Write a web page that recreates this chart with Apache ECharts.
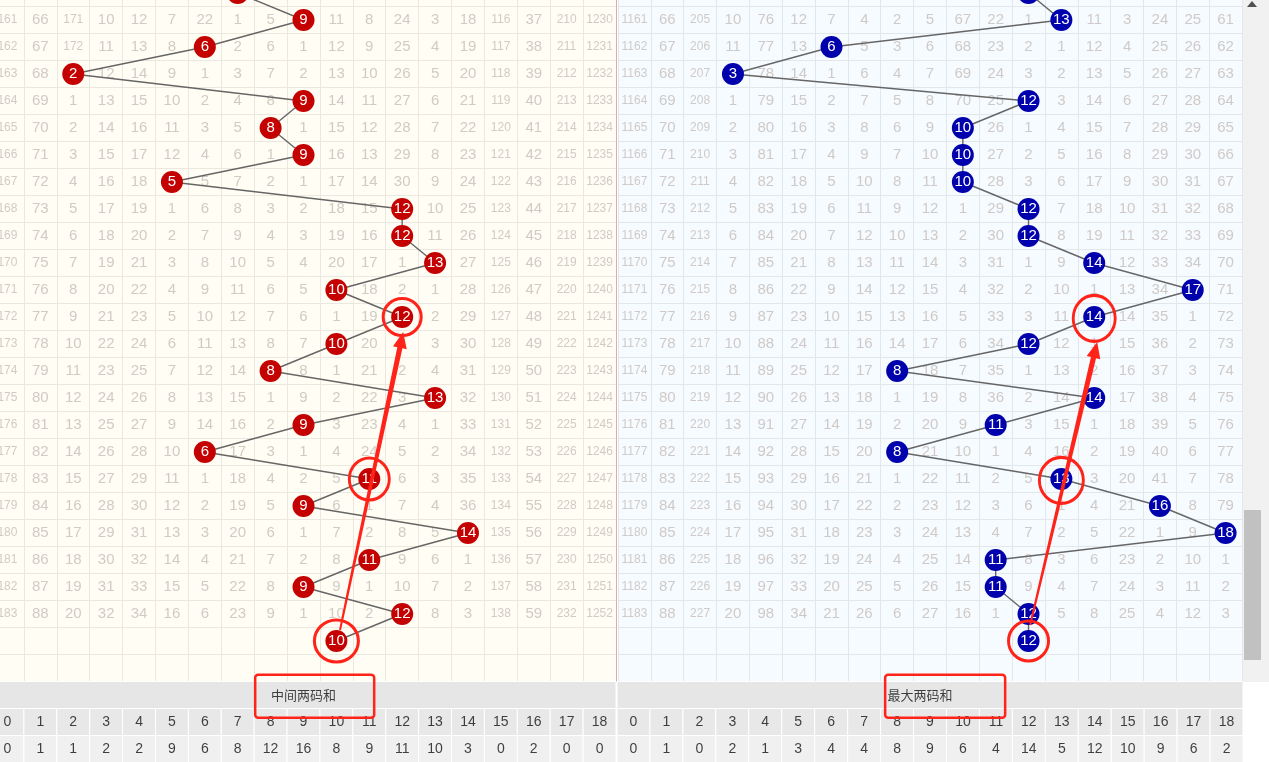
<!DOCTYPE html>
<html><head><meta charset="utf-8">
<script src="https://cdn.jsdelivr.net/npm/echarts/dist/echarts.min.js"></script>
<style>html,body{margin:0;padding:0;background:#fff;overflow:hidden}#c{width:1269px;height:762px}</style>
</head><body><div id="c"></div><script>
// ---- data ----
const columns = ['0','1','2','3','4','5','6','7','8','9','10','11','12','13','14','15','16','17','18'];
// draws for periods 160..183 (row 160 is only partly visible)
const midDraws = [7,9,6,2,9,8,9,5,12,12,13,10,12,10,8,13,9,6,11,9,14,11,9,12];
const midNext = 10;   // circled value in the empty row below
const maxDraws = [12,13,6,3,12,10,10,10,12,12,14,17,14,12,8,14,11,8,13,16,18,11,11,12];
const maxNext = 12;
// omission values shown in row 161 (0 = hit, drawn as a ball)
const midOmit161 = [161,66,171,10,12,7,22,1,5,0,11,8,24,3,18,116,37,210,1230];
const maxOmit161 = [1161,66,205,10,76,12,7,4,2,5,67,22,1,0,11,3,24,25,61];
// appearance counts in the bottom row
const midCounts = [0,1,1,2,2,9,6,8,12,16,8,9,11,10,3,0,2,0,0];
const maxCounts = [0,1,0,2,1,3,4,4,8,9,6,4,14,5,12,10,9,6,2];
const midTitle = '中间两码和';
const maxTitle = '最大两码和';
// annotation marks (hand-drawn red circles, arrows and boxes) in cell coordinates
const midCircles = [[12,172,38,37],[11,178,40,42],[10,184,44,42]];
const maxCircles = [[14,172.05,42,46],[13,178.05,44,46],[12,184,40,40]];
const midArrow = [10.11,183.59,12.03,172.56];
const maxArrow = [12.05,183.41,14.09,172.93];
const midBox = [9.34,0.05,119,43];
const maxBox = [9.46,0.05,120,43];

const FONT = 'Arial, "Liberation Sans", sans-serif';
const FIRST = 160, LAST_ROW = 185;

function omissionRows(start, draws){
  const rows = [];
  let prev = start.slice();
  rows.push({period:161, vals:prev});
  for (let i = 2; i < draws.length; i++){
    const d = draws[i];
    prev = prev.map((v,c)=> c===d ? 0 : v+1);
    rows.push({period:FIRST+i, vals:prev});
  }
  return rows;
}
function cellData(start, draws){
  const out = [];
  omissionRows(start, draws).forEach(r=>{
    r.vals.forEach((v,c)=>{
      if (v===0) return;
      out.push({value:[c, r.period, v], label:{fontSize: String(v).length>=3 ? 12 : 15}});
    });
  });
  return out;
}
function ballData(draws, next){
  const d = draws.map((v,i)=>[v, FIRST+i]);
  d.push([next, FIRST+draws.length]);
  return d;
}

const chart = echarts.init(document.getElementById('c'));

function topAxes(gridIndex, lineColor, sepColor){
  return {
    x:{type:'value', gridIndex, min:-0.5, max:18.5, interval:1,
       axisLine:{show:false}, axisTick:{show:false}, axisLabel:{show:false},
       splitLine:{show:true, lineStyle:{color:lineColor, width:1}}},
    y:{type:'value', gridIndex, inverse:true, min:FIRST-0.5, max:LAST_ROW+0.5, interval:1,
       position:'right',
       axisLine:{show:!!sepColor, onZero:false, lineStyle:{color:sepColor||'#000', width:1}},
       axisTick:{show:false}, axisLabel:{show:false},
       splitLine:{show:true, lineStyle:{color:lineColor, width:1}}}
  };
}
function bottomAxes(gridIndex){
  return {
    x:{type:'value', gridIndex, min:-0.5, max:18.5, interval:1,
       axisLine:{show:false}, axisTick:{show:false}, axisLabel:{show:false}, splitLine:{show:false}},
    y:{type:'value', gridIndex, inverse:true, min:-0.5, max:2.5, interval:1,
       axisLine:{show:false}, axisTick:{show:false}, axisLabel:{show:false}, splitLine:{show:false}}
  };
}
const A0 = topAxes(0,'#ece7df','#e2a9a9');
const A1 = topAxes(1,'#e1e7eb',null);
const A2 = bottomAxes(2);
const A3 = bottomAxes(3);

function cellSeries(gi, start, draws){
  return {type:'scatter', xAxisIndex:gi, yAxisIndex:gi, silent:true, z:2,
    symbol:'rect', symbolSize:1, itemStyle:{color:'rgba(0,0,0,0)'},
    label:{show:true, position:'inside', color:'#c6beb9', fontFamily:FONT, fontSize:15,
           formatter:p=>String(p.value[2])},
    data:cellData(start, draws)};
}
function lineSeries(gi, draws, next){
  return {type:'line', xAxisIndex:gi, yAxisIndex:gi, silent:true, z:3,
    symbol:'none', lineStyle:{color:'#666', width:1.4}, data:ballData(draws,next), animation:false};
}
function ballSeries(gi, draws, next, color){
  return {type:'scatter', xAxisIndex:gi, yAxisIndex:gi, silent:true, z:4,
    symbol:'circle', symbolSize:22, itemStyle:{color:color, opacity:1},
    label:{show:true, position:'inside', color:'#fff', fontFamily:FONT, fontSize:15,
           formatter:p=>String(p.value[0])},
    data:ballData(draws,next)};
}
function circleSeries(gi, circles){
  return {type:'scatter', xAxisIndex:gi, yAxisIndex:gi, silent:true, z:6,
    symbol:'circle', itemStyle:{color:'rgba(0,0,0,0)', borderColor:'#ff2319', borderWidth:3, opacity:1},
    data:circles.map(c=>({value:[c[0],c[1]], symbolSize:[c[2],c[3]]}))};
}
function arrowSeries(gi, arrow){
  return {type:'custom', xAxisIndex:gi, yAxisIndex:gi, silent:true, z:7, clip:false,
    encode:{x:[0,2], y:[1,3]},
    data:[arrow],
    renderItem:(params, api)=>{
      const p1 = api.coord([api.value(0), api.value(1)]);
      const p2 = api.coord([api.value(2), api.value(3)]);
      const dx = p2[0]-p1[0], dy = p2[1]-p1[1];
      const L = Math.sqrt(dx*dx+dy*dy);
      const ux = dx/L, uy = dy/L, nx = -uy, ny = ux;
      const hl = 16, hw = 7, sw0 = 1, sw1 = 2.6;
      const bx = p2[0]-ux*hl, by = p2[1]-uy*hl;
      const pts = [
        [p1[0]+nx*sw0, p1[1]+ny*sw0],
        [bx+nx*sw1, by+ny*sw1],
        [bx+nx*hw, by+ny*hw],
        [p2[0], p2[1]],
        [bx-nx*hw, by-ny*hw],
        [bx-nx*sw1, by-ny*sw1],
        [p1[0]-nx*sw0, p1[1]-ny*sw0]
      ];
      return {type:'polygon', shape:{points:pts}, style:{fill:'#ff2319'}};
    }};
}
function bottomBgSeries(gi){
  const data = [[9,0,19]];
  for (let c=0;c<19;c++){ data.push([c,1,1]); data.push([c,2,1]); }
  const fills = ['#e6e6e6','#e8e8e8','#f0f0f0'];
  return {type:'custom', xAxisIndex:gi, yAxisIndex:gi, silent:true, z:1,
    encode:{x:0, y:1}, data,
    renderItem:(params, api)=>{
      const c = api.value(0), r = api.value(1), span = api.value(2);
      const a = api.coord([c-span/2, r-0.5]);
      const b = api.coord([c+span/2, r+0.5]);
      return {type:'rect', shape:{x:a[0], y:a[1], width:b[0]-a[0], height:b[1]-a[1]},
        style:{fill:fills[r], stroke:'#ffffff', lineWidth:1}};
    }};
}
function bottomTextSeries(gi, title, titleX, counts){
  const data = [{value:[titleX,0,title], label:{fontSize:13, fontFamily:'"Noto Sans CJK SC", sans-serif'}}];
  columns.forEach((c,i)=>{ data.push({value:[i,1,c]}); data.push({value:[i,2,String(counts[i])]}); });
  return {type:'scatter', xAxisIndex:gi, yAxisIndex:gi, silent:true, z:3,
    symbol:'rect', symbolSize:1, itemStyle:{color:'rgba(0,0,0,0)'},
    label:{show:true, position:'inside', color:'#111', fontFamily:FONT, fontSize:14,
           formatter:p=>String(p.value[2])},
    data};
}
function boxSeries(gi, box){
  return {type:'custom', xAxisIndex:gi, yAxisIndex:gi, silent:true, z:8, clip:false,
    encode:{x:0, y:1}, data:[box],
    renderItem:(params, api)=>{
      const p = api.coord([api.value(0), api.value(1)]);
      const w = api.value(2), h = api.value(3);
      return {type:'rect', shape:{x:p[0]-w/2, y:p[1]-h/2, width:w, height:h, r:3},
        style:{fill:'none', stroke:'#ff2319', lineWidth:2.5}};
    }};
}

const option = {
  backgroundColor:'#ffffff',
  animation:false,
  grid:[
    {left:-9, top:-20.5, width:625, height:702, show:true, backgroundColor:'#fffdf4', borderWidth:0, outerBoundsMode:'none', containLabel:false},
    {left:618, top:-20.5, width:624, height:702, show:true, backgroundColor:'#f6fbff', borderWidth:0, outerBoundsMode:'none', containLabel:false},
    {left:-9, top:681.5, width:625, height:81, show:false, outerBoundsMode:'none', containLabel:false},
    {left:617, top:681.5, width:626, height:81, show:false, outerBoundsMode:'none', containLabel:false}
  ],
  xAxis:[A0.x, A1.x, A2.x, A3.x],
  yAxis:[A0.y, A1.y, A2.y, A3.y],
  graphic:[
    {type:'rect', shape:{x:1243, y:0, width:26, height:682}, style:{fill:'#f1f1f1'}, z:100},
    {type:'rect', shape:{x:1244, y:510, width:17, height:150}, style:{fill:'#c1c1c1'}, z:101},
    {type:'polygon', shape:{points:[[1252,1],[1257,7],[1247,7]]}, style:{fill:'#505050'}, z:101}
  ],
  series:[
    cellSeries(0, midOmit161, midDraws),
    lineSeries(0, midDraws, midNext),
    ballSeries(0, midDraws, midNext, '#c40000'),
    cellSeries(1, maxOmit161, maxDraws),
    lineSeries(1, maxDraws, maxNext),
    ballSeries(1, maxDraws, maxNext, '#0000ad'),
    circleSeries(0, midCircles),
    circleSeries(1, maxCircles),
    arrowSeries(0, midArrow),
    arrowSeries(1, maxArrow),
    bottomBgSeries(2),
    bottomBgSeries(3),
    bottomTextSeries(2, midTitle, 9, midCounts),
    bottomTextSeries(3, maxTitle, 8.7, maxCounts),
    boxSeries(2, midBox),
    boxSeries(3, maxBox)
  ]
};
chart.setOption(option);
</script></body></html>
